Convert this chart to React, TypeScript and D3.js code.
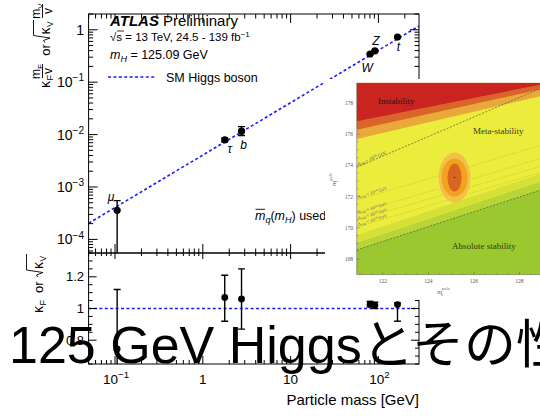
import React from 'react';
import * as d3 from 'd3';

// ---------- data ----------
const particleLabels = ['μ', 'τ', 'b', 'W', 'Z', 't'];
const particleMass = [0.1057, 1.777, 2.76, 80.4, 91.19, 165];
const couplingValue = [3.6e-4, 7.9e-3, 1.16e-2, 0.345, 0.395, 0.725];
const couplingUp = [5.5e-4, 8.6e-3, 1.42e-2, 0.355, 0.405, 0.74];
const couplingDown = [1e-6, 7.3e-3, 0.96e-2, 0.335, 0.385, 0.71];
const kappaValue = [0.745, 1.07, 1.06, 1.027, 1.02, 1.025];
const kappaUp = [1.12, 1.21, 1.25, 1.045, 1.04, 1.035];
const kappaDown = [0.4, 0.92, 0.87, 1.01, 1.0, 0.92];
const vev = 246.22;

const xMajorTicks = [0.1, 1, 10, 100];
const xMajorLabels = [['10', '−1'], ['1', ''], ['10', ''], ['10', '2']];
const yUpMajorTicks = [1e-4, 1e-3, 1e-2, 1e-1, 1];
const yUpLabels = [['10', '−4'], ['10', '−3'], ['10', '−2'], ['10', '−1'], ['1', '']];
const yLowTicks = [0.8, 1.0, 1.2];
const yLowLabels = ['0.8', '1', '1.2'];

// inset (vacuum stability plot)
const insetMh = [120.85, 129.0];
const instabilityEdge = [176.83, 179.2];
const metaEdge1 = [176.29, 178.9];
const metaEdge2 = [175.69, 178.47];
const lambda10Edge = [173.88, 178.98];
const faintLines = [
  [171.78, 175.31],
  [170.95, 174.47],
  [170.5, 173.96],
  [170.05, 173.58],
];
const greenEdge1 = [169.54, 173.5];
const greenEdge2 = [169.03, 172.98];
const stabilityEdge = [168.58, 172.45];
const insetYTicks = [168, 170, 172, 174, 176, 178];
const insetXTicks = [122, 124, 126, 128];
const ellipseCenter = [125.15, 173.22];
const ellipseRx = [0.7, 0.57, 0.31];
const ellipseRy = [1.6, 1.22, 0.9];
const ellipseColors = ['#f3c04a', '#f2a21f', '#d8661e'];

const FONT = '"Liberation Sans", Arial, Helvetica, sans-serif';
const SERIF = '"Liberation Serif", "DejaVu Serif", serif';
const BLUE = '#1a1aff';

const labelOffset: Record<string, [number, number]> = {
  'μ': [-6, -9], 'τ': [5, 13], 'b': [2, 18], 'W': [-3, 18], 'Z': [1, -6], 't': [1, 14],
};

export default function App() {
  const L = 88.6, R = 419, T = 14, M = 253, B = 364;
  const x = d3.scaleLog().domain([0.05, 290]).range([L, R]);
  const yUp = d3.scaleLog().domain([5.5e-5, 2]).range([M, T]);
  const yLow = d3.scaleLinear().domain([0.65, 1.35]).range([B, M]);

  const xTicks: { v: number; major: boolean }[] = [];
  for (let e = -2; e <= 2; e++) for (let k = 1; k <= 9; k++) {
    const v = k * Math.pow(10, e);
    if (v >= 0.05 && v <= 290) xTicks.push({ v, major: k === 1 });
  }
  const yTicks: { v: number; major: boolean }[] = [];
  for (let e = -5; e <= 0; e++) for (let k = 1; k <= 9; k++) {
    const v = k * Math.pow(10, e);
    if (v >= 5.5e-5 && v <= 2) yTicks.push({ v, major: k === 1 });
  }
  const yLowTickList: { v: number; major: boolean }[] = [];
  for (let i = 0; i <= 14; i++) {
    const v = 0.65 + i * 0.05;
    const major = Math.abs(v * 5 - Math.round(v * 5)) < 1e-6;
    yLowTickList.push({ v, major });
  }

  const smLine = d3.line<number>().x((m) => x(m)).y((m) => yUp(m / vev));
  const smPts = [0.05, 290];

  // inset scales
  const ix = d3.scaleLinear().domain([120.85, 129]).range([356.7, 542.2]);
  const iy = d3.scaleLinear().domain([167, 179.3]).range([274.6, 82.7]);
  const above = (edge: number[]) =>
    `M${ix(insetMh[0])},${iy(edge[0])}L${ix(insetMh[1])},${iy(edge[1])}L${ix(insetMh[1])},${iy(179.3)}L${ix(insetMh[0])},${iy(179.3)}Z`;
  const below = (edge: number[]) =>
    `M${ix(insetMh[0])},${iy(edge[0])}L${ix(insetMh[1])},${iy(edge[1])}L${ix(insetMh[1])},${iy(167)}L${ix(insetMh[0])},${iy(167)}Z`;
  const lineOf = (edge: number[]) =>
    `M${ix(insetMh[0])},${iy(edge[0])}L${ix(insetMh[1])},${iy(edge[1])}`;

  const cap = 3.5;

  const supLabel = (base: string, sup: string, xx: number, yy: number, anchor: string, fs: number) => (
    <text x={xx} y={yy} textAnchor={anchor} fontSize={fs} fontFamily={FONT} fill="#000">
      {base}
      {sup && <tspan fontSize={fs * 0.72} dy={-fs * 0.42}>{sup}</tspan>}
    </text>
  );

  return (
    <svg width={540} height={416} style={{ position: 'absolute', left: 0, top: 0, background: '#fff' }}>
      <defs>
        <clipPath id="upClip"><rect x={L} y={T} width={R - L} height={M - T} /></clipPath>
        <clipPath id="lowClip"><rect x={L} y={M} width={R - L} height={B - M} /></clipPath>
        <clipPath id="insetClip"><rect x={356.7} y={82.7} width={190} height={191.9} /></clipPath>
      </defs>
      <rect x={0} y={0} width={540} height={416} fill="#fff" />

      {/* ---------- upper panel ---------- */}
      <g clipPath="url(#upClip)">
        <path d={smLine(smPts) || ''} fill="none" stroke={BLUE} strokeWidth={1.6} strokeDasharray="3,2.4" />
        {particleMass.map((m, i) => (
          <g key={'u' + i} stroke="#000" strokeWidth={1.4}>
            <line x1={x(m)} x2={x(m)} y1={yUp(couplingUp[i])} y2={yUp(Math.max(couplingDown[i], 1e-6))} />
            <line x1={x(m) - cap} x2={x(m) + cap} y1={yUp(couplingUp[i])} y2={yUp(couplingUp[i])} />
            <line x1={x(m) - cap} x2={x(m) + cap} y1={yUp(couplingDown[i])} y2={yUp(couplingDown[i])} />
            <circle cx={x(m)} cy={yUp(couplingValue[i])} r={3.6} fill="#000" stroke="none" />
          </g>
        ))}
      </g>
      {particleMass.map((m, i) => (
        <text key={'lab' + i} x={x(m) + labelOffset[particleLabels[i]][0]} y={yUp(couplingValue[i]) + labelOffset[particleLabels[i]][1]}
          fontSize={12} fontStyle="italic" fontFamily={FONT} textAnchor="middle" fill="#000">
          {particleLabels[i]}
        </text>
      ))}

      {/* ATLAS text */}
      <text x={110} y={26} fontSize={15} fontFamily={FONT} fill="#000">
        <tspan fontWeight="bold" fontStyle="italic">ATLAS</tspan>
        <tspan dx={4}>Preliminary</tspan>
      </text>
      <text x={110} y={41} fontSize={11.5} fontFamily={FONT} fill="#000">
        √s = 13 TeV, 24.5 - 139 fb<tspan fontSize={8} dy={-4}>−1</tspan>
      </text>
      <line x1={117} x2={124} y1={31} y2={31} stroke="#000" strokeWidth={0.8} />
      <text x={110} y={59} fontSize={12.5} fontFamily={FONT} fill="#000">
        <tspan fontStyle="italic">m</tspan><tspan fontSize={9} dy={3} fontStyle="italic">H</tspan><tspan dy={-3}> = 125.09 GeV</tspan>
      </text>
      <line x1={108} x2={156} y1={77} y2={77} stroke={BLUE} strokeWidth={1.6} strokeDasharray="3,2.4" />
      <text x={166} y={81.5} fontSize={12.5} fontFamily={FONT} fill="#000">SM Higgs boson</text>
      <text x={255} y={220} fontSize={12.5} fontFamily={FONT} fill="#000">
        <tspan fontStyle="italic">m</tspan><tspan fontSize={9} dy={3} fontStyle="italic">q</tspan><tspan dy={-3}>(</tspan><tspan fontStyle="italic">m</tspan><tspan fontSize={9} dy={3} fontStyle="italic">H</tspan><tspan dy={-3}>) used for quarks</tspan>
      </text>
      <line x1={255.5} x2={265} y1={209.3} y2={209.3} stroke="#000" strokeWidth={0.9} />

      {/* upper frame + ticks */}
      <rect x={L} y={T} width={R - L} height={M - T} fill="none" stroke="#000" strokeWidth={1} />
      {xTicks.map((t, i) => {
        const len = t.major ? 9 : 4.5;
        return (
          <g key={'xt' + i} stroke="#000" strokeWidth={1}>
            <line x1={x(t.v)} x2={x(t.v)} y1={M} y2={M - len} />
            <line x1={x(t.v)} x2={x(t.v)} y1={T} y2={T + len} />
            <line x1={x(t.v)} x2={x(t.v)} y1={M} y2={M + (t.major ? 6 : 3)} />
            <line x1={x(t.v)} x2={x(t.v)} y1={B} y2={B - (t.major ? 8 : 4)} />
          </g>
        );
      })}
      {yTicks.map((t, i) => {
        const len = t.major ? 9 : 4.5;
        return (
          <g key={'yt' + i} stroke="#000" strokeWidth={1}>
            <line x1={L} x2={L + len} y1={yUp(t.v)} y2={yUp(t.v)} />
            <line x1={R} x2={R - len} y1={yUp(t.v)} y2={yUp(t.v)} />
          </g>
        );
      })}
      {yUpMajorTicks.map((v, i) => (
        <g key={'yl' + i}>{supLabel(yUpLabels[i][0], yUpLabels[i][1], 84, yUp(v) + 5, 'end', 14)}</g>
      ))}

      {/* ---------- lower panel ---------- */}
      <g clipPath="url(#lowClip)">
        <line x1={L} x2={R} y1={yLow(1)} y2={yLow(1)} stroke={BLUE} strokeWidth={1.6} strokeDasharray="3,2.4" />
        {particleMass.map((m, i) => (
          <g key={'l' + i} stroke="#000" strokeWidth={1.4}>
            <line x1={x(m)} x2={x(m)} y1={yLow(kappaUp[i])} y2={yLow(kappaDown[i])} />
            <line x1={x(m) - cap} x2={x(m) + cap} y1={yLow(kappaUp[i])} y2={yLow(kappaUp[i])} />
            <line x1={x(m) - cap} x2={x(m) + cap} y1={yLow(kappaDown[i])} y2={yLow(kappaDown[i])} />
            <circle cx={x(m)} cy={yLow(kappaValue[i])} r={3.4} fill="#000" stroke="none" />
          </g>
        ))}
      </g>
      <rect x={L} y={M} width={R - L} height={B - M} fill="none" stroke="#000" strokeWidth={1} />
      {yLowTickList.map((t, i) => {
        const len = t.major ? 8 : 4;
        return (
          <g key={'ylt' + i} stroke="#000" strokeWidth={1}>
            <line x1={L} x2={L + len} y1={yLow(t.v)} y2={yLow(t.v)} />
            <line x1={R} x2={R - len} y1={yLow(t.v)} y2={yLow(t.v)} />
          </g>
        );
      })}
      {yLowTicks.map((v, i) => (
        <text key={'yll' + i} x={84} y={yLow(v) + 4.5} textAnchor="end" fontSize={13} fontFamily={FONT} fill="#000">{yLowLabels[i]}</text>
      ))}
      {xMajorTicks.map((v, i) => (
        <g key={'xl' + i}>{supLabel(xMajorLabels[i][0], xMajorLabels[i][1], x(v) + (xMajorLabels[i][1] ? 1 : 0), 384, 'middle', 13.5)}</g>
      ))}
      <text x={419} y={405} textAnchor="end" fontSize={15} fontFamily={FONT} fill="#000">Particle mass [GeV]</text>

      {/* upper y title */}
      <g transform="translate(43,50) rotate(-90)" fontFamily={FONT} fill="#000">
        <text x={-38} y={7} fontSize={14}>κ</text>
        <text x={-30.5} y={10} fontSize={9}>F</text>
        <text x={-21.5} y={-3} fontSize={12} textAnchor="middle">m<tspan fontSize={8} dy={2.5}>F</tspan></text>
        <line x1={-28} x2={-14} y1={-0.5} y2={-0.5} stroke="#000" strokeWidth={0.9} />
        <text x={-21} y={8.5} fontSize={12} textAnchor="middle">v</text>
        <text x={0} y={7} fontSize={13} textAnchor="middle">or</text>
        <path d="M7.5,2 L9.5,0.5 L12,7 L14.5,-9.5 L30,-9.5" fill="none" stroke="#000" strokeWidth={0.9} />
        <text x={15.5} y={7} fontSize={14}>κ</text>
        <text x={23} y={10} fontSize={8.5}>V</text>
        <text x={39} y={-3} fontSize={12} textAnchor="middle">m<tspan fontSize={8} dy={2.5}>V</tspan></text>
        <line x1={32} x2={46} y1={-0.5} y2={-0.5} stroke="#000" strokeWidth={0.9} />
        <text x={39} y={8.5} fontSize={12} textAnchor="middle">v</text>
      </g>
      {/* lower y title */}
      <g transform="translate(41,285) rotate(-90)" fontFamily={FONT} fill="#000">
        <text x={-28} y={2} fontSize={14}>κ</text>
        <text x={-20.5} y={5} fontSize={9}>F</text>
        <text x={-8} y={2} fontSize={13}>or</text>
        <path d="M8,-3 L10,-4.5 L12.5,2 L15,-14.5 L31,-14.5" fill="none" stroke="#000" strokeWidth={0.9} />
        <text x={16} y={2} fontSize={14}>κ</text>
        <text x={23.5} y={5} fontSize={8.5}>V</text>
      </g>

      {/* ---------- inset ---------- */}
      <rect x={325} y={79} width={215} height={221} fill="#fff" />
      <g clipPath="url(#insetClip)">
        <rect x={356.7} y={82.7} width={190} height={191.9} fill="#ecec3c" />
        <path d={above(metaEdge2)} fill="#e9a83a" />
        <path d={above(metaEdge1)} fill="#d9652a" />
        <path d={above(instabilityEdge)} fill="#c9241f" />
        <path d={below(greenEdge1)} fill="#d6e038" />
        <path d={below(greenEdge2)} fill="#b7d535" />
        <path d={below(stabilityEdge)} fill="#9cc82f" />
        {faintLines.map((e, i) => (
          <path key={'fl' + i} d={lineOf(e)} fill="none" stroke="#b8b83a" strokeWidth={0.6} strokeDasharray="1.5,1.5" />
        ))}
        <path d={lineOf(lambda10Edge)} fill="none" stroke="#555" strokeWidth={0.7} strokeDasharray="2,1.5" />
        <path d={lineOf(stabilityEdge)} fill="none" stroke="#555" strokeWidth={0.7} strokeDasharray="2,1.5" />
        {ellipseRx.map((rx, i) => (
          <ellipse key={'el' + i} cx={ix(ellipseCenter[0])} cy={iy(ellipseCenter[1])}
            rx={ix(ellipseCenter[0] + rx) - ix(ellipseCenter[0])} ry={iy(ellipseCenter[1]) - iy(ellipseCenter[1] + ellipseRy[i])}
            fill={ellipseColors[i]} />
        ))}
        <circle cx={ix(ellipseCenter[0])} cy={iy(ellipseCenter[1])} r={0.8} fill="#6a2a0a" />
      </g>
      <g fontFamily={SERIF} fill="#3a3a2a">
        <text x={378} y={104} fontSize={9} fill="#3a0d0a">Instability</text>
        <text x={473} y={134} fontSize={9}>Meta-stability</text>
        <text x={452} y={249} fontSize={9} fill="#2e3d12">Absolute stability</text>
        <text transform={`translate(358,${iy(173.88) - 1.5}) rotate(-23)`} fontSize={4.6} fill="#555">Λ<tspan fontSize={3.3} dy={1}>SM</tspan><tspan dy={-1}> = 10</tspan><tspan fontSize={3.3} dy={-1.5}>10</tspan><tspan dy={1.5}> GeV</tspan></text>
        {[['14', 198.5], ['16', 214], ['18', 220], ['19', 226]].map(([p, yy], i) => (
          <text key={'lt' + i} transform={`translate(358,${yy}) rotate(-17)`} fontSize={4.6} fill="#666">Λ<tspan fontSize={3.3} dy={1}>SM</tspan><tspan dy={-1}> = 10</tspan><tspan fontSize={3.3} dy={-1.5}>{p}</tspan><tspan dy={1.5}> GeV</tspan></text>
        ))}
      </g>
      {/* inset axes */}
      <line x1={356.7} x2={356.7} y1={82.7} y2={274.6} stroke="#666" strokeWidth={0.6} />
      <line x1={356.7} x2={540} y1={274.6} y2={274.6} stroke="#666" strokeWidth={0.6} />
      {d3.range(167.5, 179.3, 0.5).map((v, i) => (
        <line key={'iyt' + i} x1={356.7} x2={356.7 + (Math.abs(v - Math.round(v / 2) * 2) < 1e-6 ? 3 : 1.5)} y1={iy(v)} y2={iy(v)} stroke="#666" strokeWidth={0.5} />
      ))}
      {d3.range(121, 129.01, 0.5).map((v, i) => (
        <line key={'ixt' + i} x1={ix(v)} x2={ix(v)} y1={274.6} y2={274.6 - (Math.abs(v - Math.round(v / 2) * 2) < 1e-6 ? 3 : 1.5)} stroke="#666" strokeWidth={0.5} />
      ))}
      {insetYTicks.map((v, i) => (
        <text key={'iyl' + i} x={353} y={iy(v) + 2} textAnchor="end" fontSize={5.5} fontFamily={SERIF} fill="#555">{v}</text>
      ))}
      {insetXTicks.map((v, i) => (
        <text key={'ixl' + i} x={ix(v)} y={283} textAnchor="middle" fontSize={5.5} fontFamily={SERIF} fill="#555">{v}</text>
      ))}
      <text x={437} y={294} fontSize={7} fontFamily={SERIF} fontStyle="italic" fill="#666">m<tspan fontSize={4.5} dy={-4}>pole</tspan><tspan fontSize={4.5} dx={-9} dy={6}>h</tspan></text>
      <text transform="translate(336,186) rotate(-90)" fontSize={7} fontFamily={SERIF} fontStyle="italic" fill="#666">m<tspan fontSize={4.5} dy={-4}>pole</tspan><tspan fontSize={4.5} dx={-9} dy={6}>t</tspan></text>

      {/* ---------- overlay title ---------- */}
      <text x={9} y={363} fontSize={52} fontFamily={'"Liberation Sans", Arial, "Noto Sans CJK JP", sans-serif'} fill="#000">125 GeV Higgsとその性</text>
    </svg>
  );
}
